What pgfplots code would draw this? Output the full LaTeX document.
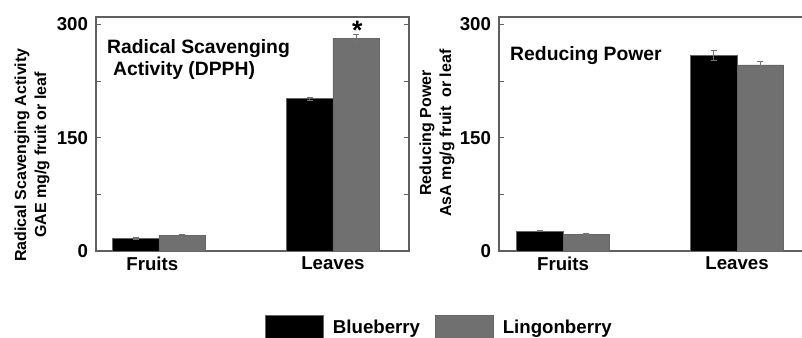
\documentclass[border=0pt]{standalone}
\usepackage{pgfplots}
\pgfplotsset{compat=1.18}
\usepackage{fontspec}
\setmainfont{Liberation Sans}
\definecolor{lgray}{RGB}{112,112,112}
\definecolor{frame}{RGB}{95,95,95}
\tikzset{ttl/.style={font=\bfseries\fontsize{14.5}{17}\selectfont, anchor=base west, inner sep=0pt}}
\pgfplotsset{
  panel/.style={
    scale only axis, width=234.75pt, height=175.5pt,
    anchor=south west,
    ybar, bar width=0.267,
    ymin=0, ymax=310,
    ytick={0,75,150,225,300}, yticklabels={0,,150,,300},
    xtick={0,1}, xticklabels={Fruits,Leaves},
    major x tick style={draw=none},
    tick align=inside, ytick pos=both,
    major tick length=4pt,
    tick style={frame, line width=0.8pt},
    axis line style={frame, line width=0.9pt},
    /pgf/number format/assume math mode=true,
    yticklabel style={font=\bfseries\fontsize{14}{16}\selectfont, xshift=-2.5pt},
    xticklabel style={font=\bfseries\fontsize{14}{16}\selectfont, yshift=-1pt},
    ylabel style={font=\bfseries\fontsize{12}{15}\selectfont, align=center, anchor=center, rotate=0},
    every axis plot/.append style={draw=black!60, line width=0.4pt},
    error bars/y dir=both, error bars/y explicit,
    error bars/error bar style={black!55, line width=0.5pt},
    error bars/error mark options={rotate=90, black!55, mark size=2.2pt, line width=0.5pt},
    legend image code/.code={\path[#1, draw=black!60, line width=0.5pt] (0pt,-12pt) rectangle (43.5pt,9pt);},
  },
}
\begin{document}
\begin{tikzpicture}
\begin{axis}[panel, at={(72pt,64.5pt)}, xmin=-0.362, xmax=1.437,
  xticklabels={Fruits\hspace*{10pt},Leaves},
  ylabel={Radical Scavenging Activity\\GAE mg/g fruit or leaf},
  ylabel style={at={(rel axis cs:-0.2045,0.41)}},
  legend style={draw=none, fill=none, inner sep=0pt, at={(rel axis cs:0.54,-0.335)}, anchor=west,
    legend columns=-1,
    nodes={inner sep=0pt, font=\bfseries\fontsize{14}{16}\selectfont},
    /tikz/every odd column/.append style={column sep=6.75pt},
    /tikz/every even column/.append style={column sep=11.25pt}},
]
\addplot[fill=black, bar shift=-0.1335] coordinates {(0,17) +- (0,1) (1,202) +- (0,2)};
\addplot[fill=lgray, bar shift=0.1335] coordinates {(0,21) +- (0,1) (1,282) +- (0,5)};
\legend{Blueberry,Lingonberry}
\node[ttl] at (rel axis cs:0.035,0.846) {Radical Scavenging};
\node[ttl] at (rel axis cs:0.054,0.748) {Activity (DPPH)};
\node[font=\bfseries\fontsize{20}{20}\selectfont] at (axis cs:1.14,293) {*};
\end{axis}
\begin{axis}[panel, at={(374.25pt,64.5pt)}, xmin=-0.368, xmax=1.431,
  ylabel={Reducing Power\\AsA mg/g fruit\ \ or leaf},
  ylabel style={at={(rel axis cs:-0.198,0.504)}},
]
\addplot[fill=black, bar shift=-0.1335] coordinates {(0,26.5) +- (0,1) (1,259) +- (0,7)};
\addplot[fill=lgray, bar shift=0.1335] coordinates {(0,22.5) +- (0,1) (1,246.5) +- (0,5)};
\node[ttl] at (rel axis cs:0.035,0.816) {Reducing Power};
\end{axis}
\pgfresetboundingbox
\path[use as bounding box] (0pt,0pt) rectangle (601.5pt,252.75pt);
\end{tikzpicture}
\end{document}
